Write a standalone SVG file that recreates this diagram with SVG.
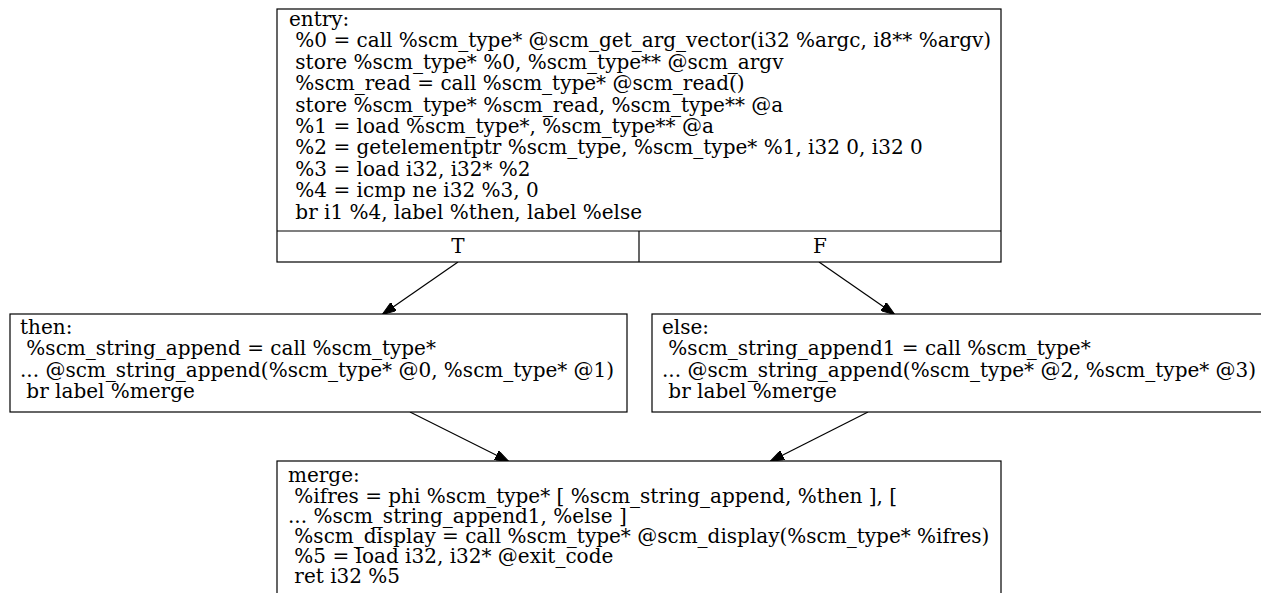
<svg xmlns="http://www.w3.org/2000/svg" width="1261" height="593" viewBox="0 0 1261 593">
<style>
text{font-family:"DejaVu Serif","Liberation Serif",serif;font-size:20px;fill:#000;white-space:pre}
.box{fill:#fff;stroke:#000;stroke-width:1.2}
.edge{stroke:#000;stroke-width:1.2;fill:none}
.c{text-anchor:middle}
</style>
<defs>
<marker id="arr" markerWidth="14" markerHeight="10" refX="13" refY="5" orient="auto" markerUnits="userSpaceOnUse">
<path d="M0,0 L14,5 L0,10 Z" fill="#000" stroke="#000"/>
</marker>
</defs>
<rect width="1261" height="593" fill="#fff"/>
<g id="connectors">
<line class="edge" x1="458" y1="262" x2="383" y2="314" marker-end="url(#arr)"/>
<line class="edge" x1="819" y1="262" x2="894" y2="314" marker-end="url(#arr)"/>
<line class="edge" x1="410" y1="412" x2="508" y2="461" marker-end="url(#arr)"/>
<line class="edge" x1="868" y1="412" x2="771" y2="461" marker-end="url(#arr)"/>
</g>
<g id="entry">
<rect class="box" x="277" y="9" width="724" height="253"/>
<line class="edge" x1="277" y1="231" x2="1001" y2="231"/>
<line class="edge" x1="639" y1="231" x2="639" y2="262"/>
<text x="289" y="26">entry:</text>
<text x="289" y="47.4"> %0 = call %scm_type* @scm_get_arg_vector(i32 %argc, i8** %argv)</text>
<text x="289" y="68.8"> store %scm_type* %0, %scm_type** @scm_argv</text>
<text x="289" y="90.2"> %scm_read = call %scm_type* @scm_read()</text>
<text x="289" y="111.6"> store %scm_type* %scm_read, %scm_type** @a</text>
<text x="289" y="133"> %1 = load %scm_type*, %scm_type** @a</text>
<text x="289" y="154.4"> %2 = getelementptr %scm_type, %scm_type* %1, i32 0, i32 0</text>
<text x="289" y="175.8"> %3 = load i32, i32* %2</text>
<text x="289" y="197.2"> %4 = icmp ne i32 %3, 0</text>
<text x="289" y="218.6"> br i1 %4, label %then, label %else</text>
<text class="c" x="458" y="253">T</text>
<text class="c" x="820" y="253">F</text>
</g>
<g id="then">
<rect class="box" x="10" y="314" width="617" height="98"/>
<text x="20" y="334">then:</text>
<text x="20" y="355.4"> %scm_string_append = call %scm_type*</text>
<text x="20" y="376.8">... @scm_string_append(%scm_type* @0, %scm_type* @1)</text>
<text x="20" y="398.2"> br label %merge</text>
</g>
<g id="else">
<rect class="box" x="652" y="314" width="620" height="98"/>
<text x="662" y="334">else:</text>
<text x="662" y="355.4"> %scm_string_append1 = call %scm_type*</text>
<text x="662" y="376.8">... @scm_string_append(%scm_type* @2, %scm_type* @3)</text>
<text x="662" y="398.2"> br label %merge</text>
</g>
<g id="merge">
<rect class="box" x="277" y="461" width="724" height="140"/>
<text x="288" y="482">merge:</text>
<text x="288" y="503"> %ifres = phi %scm_type* [ %scm_string_append, %then ], [</text>
<text x="288" y="523">... %scm_string_append1, %else ]</text>
<text x="288" y="543"> %scm_display = call %scm_type* @scm_display(%scm_type* %ifres)</text>
<text x="288" y="563"> %5 = load i32, i32* @exit_code</text>
<text x="288" y="583"> ret i32 %5</text>
</g>
</svg>
